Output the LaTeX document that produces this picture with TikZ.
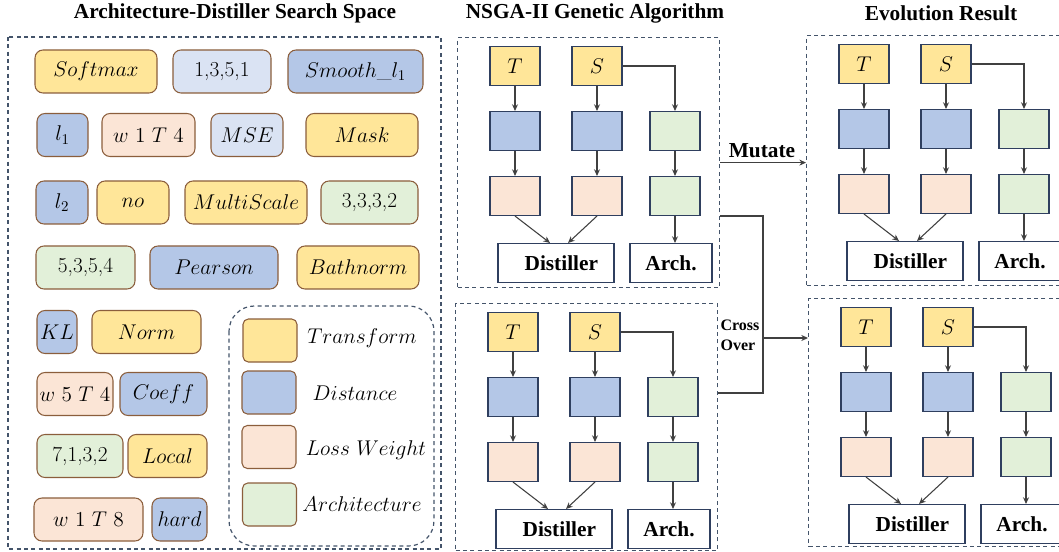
\RequirePackage{fix-cm}
\documentclass[tikz,border=0pt]{standalone}
\usepackage{fontspec}
\newfontfamily\titlefont{Liberation Serif}
\usetikzlibrary{positioning,calc,arrows.meta}
\definecolor{cyellow}{HTML}{FFE699}
\definecolor{cblue}{HTML}{B4C7E7}
\definecolor{clight}{HTML}{DAE3F3}
\definecolor{cpeach}{HTML}{FBE5D6}
\definecolor{cgreen}{HTML}{E2F0D9}
\definecolor{cbrown}{HTML}{8B5E3C}
\definecolor{cnavy}{HTML}{2F3F5F}
\definecolor{cdash}{HTML}{44546A}
\tikzset{
	sz/.style 2 args={minimum width=#1*.75pt, minimum height=#2*.75pt},
	chip/.style={draw=cbrown, rounded corners=6pt, line width=.8pt, inner sep=0pt, font=\fontsize{16}{18}\selectfont},
	key/.style={chip, rounded corners=4pt, sz={54}{43}},
	keytext/.style={font=\fontsize{16}{18}\selectfont},
	gene/.style={draw=cnavy, line width=.8pt, inner sep=0pt, sz={50}{39}, font=\fontsize{16}{18}\selectfont},
	result/.style={draw=cnavy, line width=.8pt, fill=white, inner sep=0pt, font=\titlefont\bfseries\fontsize{16}{18}\selectfont},
	panel/.style={draw=cdash, dash pattern=on 3pt off 2.5pt, line width=.9pt, inner sep=0pt},
	link/.style={draw=black!75, line width=.8pt},
	diredge/.style={link, -{Stealth[length=5pt,width=4.5pt]}},
	heading/.style={font=\titlefont\bfseries\fontsize{16}{18}\selectfont}
}
% one individual: T, S -> distance -> weight -> distiller, S -> arch
\newcommand{\gapanel}[4]{%
	\begin{scope}[shift={(#2,#3)}]
		\node[panel, sz={262}{#4}, anchor=north west] (#1box) at (0,0) {};
		\node[gene, fill=cyellow] (#1T) at (58,29) {$T$};
		\node[gene, fill=cyellow] (#1S) at (140,29) {$S$};
		\node[gene, fill=cblue] (#1D1) at (58,94) {};
		\node[gene, fill=cblue] (#1D2) at (140,94) {};
		\node[gene, fill=cgreen] (#1A1) at (218,94) {};
		\node[gene, fill=cpeach] (#1W1) at (58,159) {};
		\node[gene, fill=cpeach] (#1W2) at (140,159) {};
		\node[gene, fill=cgreen] (#1A2) at (218,159) {};
		\node[result, sz={116}{39}] (#1dist) at (99,226) {\hspace{8pt}Distiller};
		\node[result, sz={82}{39}] (#1arch) at (214,226) {Arch.};
		\draw[diredge] (#1T) -- (#1D1);
		\draw[diredge] (#1S) -- (#1D2);
		\draw[diredge] (#1S.east) -| (#1A1.north);
		\draw[diredge] (#1D1) -- (#1W1);
		\draw[diredge] (#1D2) -- (#1W2);
		\draw[diredge] (#1A1) -- (#1A2);
		\draw[diredge] (#1A2) -- (#1A2 |- #1arch.north);
		\draw[diredge] (#1W1.south) -- ($(#1dist.north)+(-6,0)$);
		\draw[diredge] (#1W2.south) -- ($(#1dist.north)+(12,0)$);
	\end{scope}}

\begin{document}
\begin{tikzpicture}[x=.75pt, y=-.75pt]
	\useasboundingbox (0,0) rectangle (1059,552);
	\clip (0,0) rectangle (1059,552);

	\node[heading] (title1) at (235,13) {Architecture-Distiller Search Space};
	\node[heading] (title2) at (595,13) {NSGA-II Genetic Algorithm};
	\node[heading] (title3) at (941,13) {Evolution Result};

	% search space
	\draw[panel] (8,37) rectangle (441,549);

	\node[chip, fill=cyellow, sz={122}{43}] (c11) at (96,71.5) {$Softmax$};
	\node[chip, fill=clight, sz={98}{43}] (c12) at (222,71.5) {1,3,5,1};
	\node[chip, fill=cblue, sz={135}{43}] (c13) at (355.5,71.5) {$Smooth\_l_1$};

	\node[chip, fill=cblue, sz={51}{43}] (c21) at (62.5,135) {$l_1$};
	\node[chip, fill=cpeach, sz={93}{43}] (c22) at (148.5,135) {$w\ 1\ T\ 4$};
	\node[chip, fill=clight, sz={72}{43}] (c23) at (247,135) {$MSE$};
	\node[chip, fill=cyellow, sz={112}{43}] (c24) at (362,135) {$Mask$};

	\node[chip, fill=cblue, sz={52}{43}] (c31) at (62,202.5) {$l_2$};
	\node[chip, fill=cyellow, sz={72}{43}] (c32) at (133,202.5) {$no$};
	\node[chip, fill=cyellow, sz={122}{43}] (c33) at (246,202.5) {$MultiScale$};
	\node[chip, fill=cgreen, sz={97}{43}] (c34) at (369.5,202.5) {3,3,3,2};

	\node[chip, fill=cgreen, sz={99}{43}] (c41) at (85.5,267.5) {5,3,5,4};
	\node[chip, fill=cblue, sz={128}{43}] (c42) at (214,267.5) {$Pearson$};
	\node[chip, fill=cyellow, sz={122}{43}] (c43) at (358,267.5) {$Bathnorm$};

	\node[chip, fill=cblue, sz={40}{43}] (c51) at (57,332) {$KL$};
	\node[chip, fill=cyellow, sz={109}{43}] (c52) at (146.5,332) {$Norm$};

	\node[chip, fill=cpeach, sz={76}{43}] (c61) at (75,394) {$w\ 5\ T\ 4$};
	\node[chip, fill=cblue, sz={87}{43}] (c62) at (163.5,394) {$Coeff$};

	\node[chip, fill=cgreen, sz={86}{43}] (c71) at (80,456) {7,1,3,2};
	\node[chip, fill=cyellow, sz={79}{43}] (c72) at (167.5,456) {$Local$};

	\node[chip, fill=cpeach, sz={109}{43}] (c81) at (88.5,519.5) {$w\ 1\ T\ 8$};
	\node[chip, fill=cblue, sz={55}{43}] (c82) at (179.5,519.5) {$hard$};

	% legend
	\draw[panel, rounded corners=19pt] (229,306) rectangle (434,546);
	\node[key, fill=cyellow] (k1) at (270,340.5) {};
	\node[key, fill=cblue] (k2) at (269,392.5) {};
	\node[key, fill=cpeach] (k3) at (269,447) {};
	\node[key, fill=cgreen] (k4) at (269.5,504.5) {};
	\node[keytext] at (362,338) {$Transform$};
	\node[keytext] at (355,393) {$Distance$};
	\node[keytext] at (366,450) {$Loss\ Weight$};
	\node[keytext] at (362,504) {$Architecture$};

	% population and offspring
	\gapanel{gtop}{457}{37}{250}
	\gapanel{gbot}{455}{303}{247}
	\gapanel{etop}{806}{35}{250}
	\gapanel{ebot}{808}{298}{248}

	\draw[diredge] (gtopbox.east) -- (gtopbox.east -| etopbox.west);
	\node[heading] (mutate) at (762,151) {Mutate};

	\coordinate (xtop) at (763,216);
	\coordinate (xmid) at (763,338);
	\coordinate (xbot) at (763,393);
	\draw[link] (gtopbox.east |- xtop) -- (xtop) -- (xbot) -- (gbotbox.east |- xbot);
	\draw[diredge] (xmid) -- (xmid -| ebotbox.west);
	\node[font=\titlefont\bfseries\fontsize{12}{15}\selectfont, align=left] (cross) at (740,335) {Cross\\Over};
\end{tikzpicture}
\end{document}
